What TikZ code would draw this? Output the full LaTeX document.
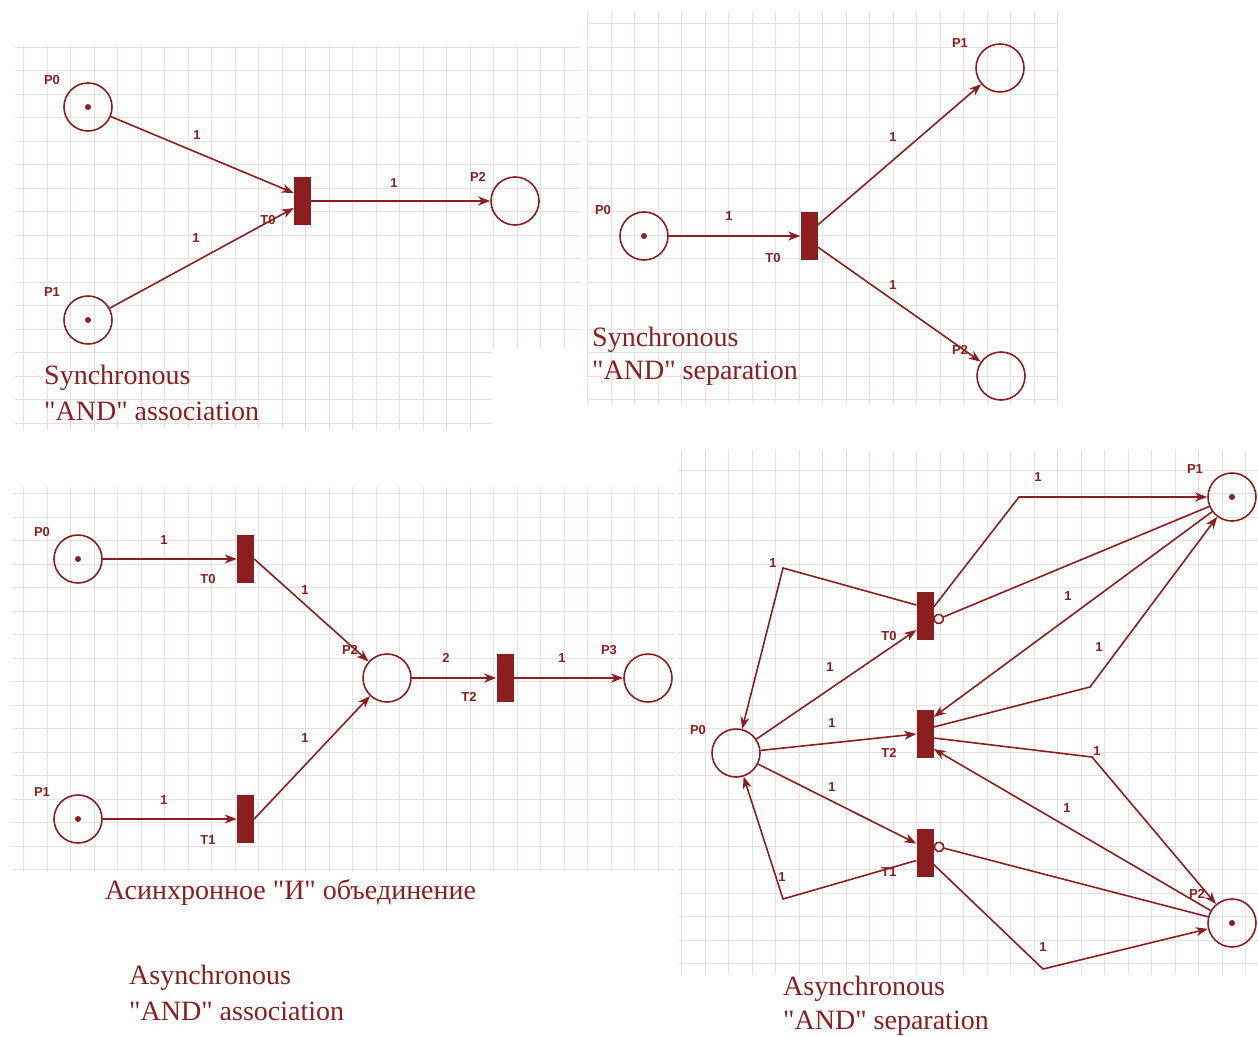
\documentclass[tikz,border=0pt]{standalone}
\usepackage{fontspec}
\setmainfont{Liberation Serif}
\setsansfont{Liberation Sans}
\newfontfamily\capfont{Liberation Serif}
\usetikzlibrary{arrows.meta}
\definecolor{dred}{RGB}{139,30,30}
\definecolor{gridc}{RGB}{234,222,225}
\begin{document}
\begin{tikzpicture}[x=1pt,y=-1pt,
  gridline/.style={draw=gridc, line width=0.8pt},
  place/.style={circle, draw=dred, line width=1.6pt, minimum size=48pt, inner sep=0pt},
  trans/.style={rectangle, fill=dred, draw=none, minimum width=17pt, minimum height=48pt, inner sep=0pt},
  arc/.style={draw=dred, line width=1.6pt, -{Stealth[length=12pt,width=9pt,inset=3.5pt]}},
  inhib/.style={draw=dred, line width=1.6pt, -{Circle[open,length=11pt,width=11pt]}},
  lab/.style={font=\sffamily\bfseries\fontsize{13}{13}\selectfont, text=dred, inner sep=0pt},
  captxt/.style={font=\capfont\fontsize{28}{36}\selectfont, text=dred, anchor=base west, inner sep=0pt},
  tok/.style={fill=dred}
]
\useasboundingbox (0,0) rectangle (1258,1036);
\fill[white] (0,0) rectangle (1258,1036);
% ---------- grids ----------
\draw[gridline, step=23.5pt] (15,45) grid (580,350);
\draw[gridline, step=23.5pt] (15,350) grid (492,430);
\draw[gridline, step=23.5pt] (587,12) grid (1058,403);
\draw[gridline, step=23.5pt] (13,487) grid (675,872);
\draw[gridline, step=23.5pt] (678,450) grid (1258,975);

% ================= Diagram 1: synchronous AND association =================
\node[place] (a0) at (88,107) {};
\node[place] (a1) at (88,320) {};
\node[trans] (aT0) at (302.5,201) {};
\node[place] (a2) at (515,201) {};
\fill[tok] (a0.center) circle (3);
\fill[tok] (a1.center) circle (3);
\draw[arc] (a0) -- ([yshift=8pt]aT0.west);
\draw[arc] (a1) -- ([yshift=-7pt]aT0.west);
\draw[arc] (aT0) -- (a2);
\node[lab] (la0) at (52,80) {P0};
\node[lab] (la1) at (52,292) {P1};
\node[lab] (la2) at (478,177) {P2};
\node[lab] (laT0) at (268,220) {T0};
\node[lab] (wa1) at (197,135) {1};
\node[lab] (wa2) at (196,238) {1};
\node[lab] (wa3) at (394,183) {1};
\node[captxt] (ca1) at (44,384) {Synchronous};
\node[captxt] (ca2) at (44,420) {"AND" association};

% ================= Diagram 2: synchronous AND separation =================
\node[place] (b0) at (644,236) {};
\node[trans] (bT0) at (809,236) {};
\node[place] (b1) at (1000,68) {};
\node[place] (b2) at (1001,376) {};
\fill[tok] (b0.center) circle (3);
\draw[arc] (b0) -- (bT0);
\draw[arc] ([yshift=11pt]bT0.east) -- (b1);
\draw[arc] ([yshift=-11pt]bT0.east) -- (b2);
\node[lab] (lb0) at (603,210) {P0};
\node[lab] (lbT0) at (773,258) {T0};
\node[lab] (lb1) at (960,43) {P1};
\node[lab] (lb2) at (960,350) {P2};
\node[lab] (wb1) at (729,216) {1};
\node[lab] (wb2) at (893,137) {1};
\node[lab] (wb3) at (893,285) {1};
\node[captxt] (cb1) at (592,346) {Synchronous};
\node[captxt] (cb2) at (592,379) {"AND" separation};

% ================= Diagram 3: asynchronous AND association =================
\node[place] (c0) at (78,559) {};
\node[place] (c1) at (78,819) {};
\node[trans] (cT0) at (245.5,559) {};
\node[trans] (cT1) at (245.5,819) {};
\node[place] (c2) at (387,678) {};
\node[trans] (cT2) at (505,678) {};
\node[place] (c3) at (648,678) {};
\fill[tok] (c0.center) circle (3);
\fill[tok] (c1.center) circle (3);
\draw[arc] (c0) -- (cT0);
\draw[arc] (c1) -- (cT1);
\draw[arc] (cT0.east) -- (c2);
\draw[arc] (cT1.east) -- (c2);
\draw[arc] (c2) -- (cT2);
\draw[arc] (cT2) -- (c3);
\node[lab] (lc0) at (42,532) {P0};
\node[lab] (lc1) at (42,792) {P1};
\node[lab] (lcT0) at (208,579) {T0};
\node[lab] (lcT1) at (208,840) {T1};
\node[lab] (lc2) at (350,650) {P2};
\node[lab] (lcT2) at (469,697) {T2};
\node[lab] (lc3) at (609,650) {P3};
\node[lab] (wc1) at (164,540) {1};
\node[lab] (wc2) at (305,590) {1};
\node[lab] (wc3) at (305,738) {1};
\node[lab] (wc4) at (164,800) {1};
\node[lab] (wc5) at (446,658) {2};
\node[lab] (wc6) at (562,658) {1};
\node[captxt] (cc0) at (105,899) {Асинхронное "И" объединение};
\node[captxt] (cc1) at (129,984) {Asynchronous};
\node[captxt] (cc2) at (129,1020) {"AND" association};

% ================= Diagram 4: asynchronous AND separation =================
\node[place] (d0) at (736,753) {};
\node[trans] (dT0) at (925,616) {};
\node[trans] (dT2) at (925,734) {};
\node[trans] (dT1) at (925,852.5) {};
\node[place] (d1) at (1232,497) {};
\node[place] (d2) at (1232,923) {};
\fill[tok] (d1.center) circle (3);
\fill[tok] (d2.center) circle (3);
\coordinate (db1) at (783,568);
\coordinate (db2) at (783,899);
\coordinate (db3) at (1019,497);
\coordinate (db4) at (1090,687);
\coordinate (db5) at (1092,757);
\coordinate (db6) at (1043,969);
% left side
\draw[arc] ([yshift=11pt]dT0.west) -- (db1) -- (d0);
\draw[arc] (d0) -- ([yshift=-14pt]dT0.west);
\draw[arc] (d0) -- (dT2.west);
\draw[arc] (d0) -- ([yshift=9pt]dT1.west);
\draw[arc] ([yshift=-8pt]dT1.west) -- (db2) -- (d0);
% right side, P1
\draw[arc] ([yshift=9pt]dT0.east) -- (db3) -- (d1);
\draw[inhib] (d1) -- ([yshift=-5pt]dT0.east);
\draw[arc] (d1) -- ([yshift=17pt]dT2.east);
\draw[arc] ([yshift=7pt]dT2.east) -- (db4) -- (d1);
% right side, P2
\draw[arc] ([yshift=-4pt]dT2.east) -- (db5) -- (d2);
\draw[arc] (d2) -- ([yshift=-15pt]dT2.east);
\draw[inhib] (d2) -- ([yshift=7pt]dT1.east);
\draw[arc] ([yshift=-12pt]dT1.east) -- (db6) -- (d2);
\node[lab] (ld0) at (698,730) {P0};
\node[lab] (ldT0) at (889,636) {T0};
\node[lab] (ldT2) at (889,753) {T2};
\node[lab] (ldT1) at (889,872) {T1};
\node[lab] (ld1) at (1195,469) {P1};
\node[lab] (ld2) at (1197,894) {P2};
\node[lab] (wd1) at (773,563) {1};
\node[lab] (wd2) at (830,667) {1};
\node[lab] (wd3) at (832,723) {1};
\node[lab] (wd4) at (832,787) {1};
\node[lab] (wd5) at (782,877) {1};
\node[lab] (wd6) at (1038,477) {1};
\node[lab] (wd7) at (1068,596) {1};
\node[lab] (wd8) at (1099,647) {1};
\node[lab] (wd9) at (1097,751) {1};
\node[lab] (wd10) at (1067,808) {1};
\node[lab] (wd11) at (1043,947) {1};
\node[captxt] (cd1) at (783,995) {Asynchronous};
\node[captxt] (cd2) at (783,1029) {"AND" separation};
\end{tikzpicture}
\end{document}
